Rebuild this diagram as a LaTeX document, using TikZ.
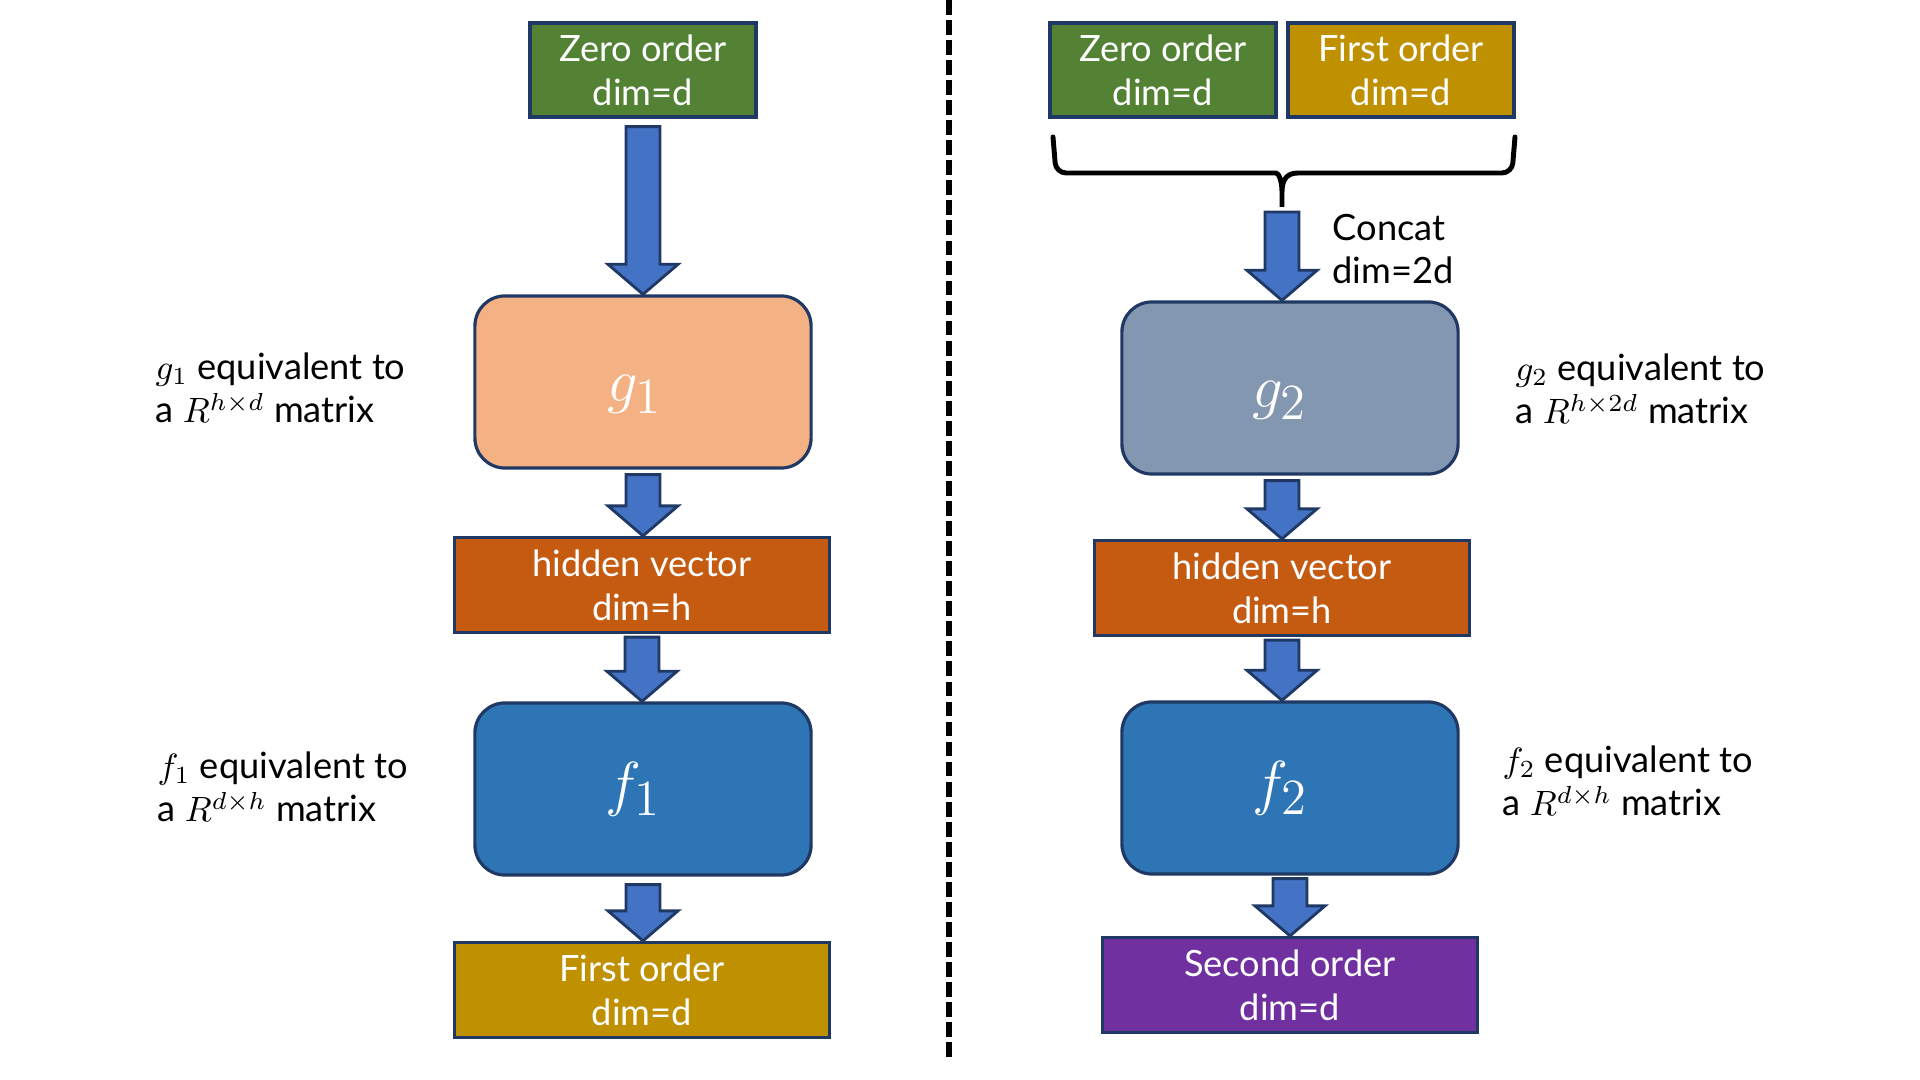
\documentclass[tikz,border=0pt]{standalone}
\usepackage{fontspec}
\setmainfont{Lato}
\usepackage{amsmath}
\usetikzlibrary{calc, positioning}
\definecolor{zeroc}{HTML}{548235}
\definecolor{firstc}{HTML}{BF9000}
\definecolor{secondc}{HTML}{7030A0}
\definecolor{hiddenc}{HTML}{C55A11}
\definecolor{gonec}{HTML}{F4B183}
\definecolor{gtwoc}{HTML}{8497B0}
\definecolor{fnetc}{HTML}{2E75B6}
\definecolor{arrowc}{HTML}{4472C4}
\definecolor{edgec}{HTML}{1F3864}

\tikzset{
  box/.style={draw=edgec, line width=0.9pt, text=white, align=center, inner sep=0pt,
    font=\fontsize{10.3}{12.4}\selectfont},
  vecbox/.style={box, minimum width=2.26cm, minimum height=0.94cm},
  widebox/.style={box, minimum width=3.75cm, minimum height=0.95cm},
  netbox/.style={box, rounded corners=0.3cm, minimum width=3.36cm, minimum height=1.72cm,
    font=\fontsize{19}{23}\selectfont},
  gtext/.style={text height=0.54cm, text depth=0.15cm},
  lbl/.style={align=left, anchor=west, inner sep=0pt, font=\fontsize{10.3}{12.4}\selectfont},
  arrowshape/.style={fill=arrowc, draw=edgec, line width=0.8pt},
  bracket/.style={line width=1.4pt, line cap=round},
  divider/.style={line width=1.7pt, dash pattern=on 4.2pt off 1.5pt}
}

% block arrow: shaft starts at #1, tip sits on the level of #2
\newcommand{\blockarrow}[2]{%
  \draw[arrowshape] let \p1 = (#1), \p2 = (#2) in
    (\x1-0.17cm,\y1) -- (\x1+0.17cm,\y1) -- (\x1+0.17cm,\y2+0.3cm)
    -- (\x1+0.35cm,\y2+0.3cm) -- (\x1,\y2) -- (\x1-0.35cm,\y2+0.3cm)
    -- (\x1-0.17cm,\y2+0.3cm) -- cycle;
}

\begin{document}
\begin{tikzpicture}[x=0.01cm, y=-0.01cm]
    \useasboundingbox (0,0) rectangle (1920,1080);

    % Divider
    \draw[divider] (949,0) -- (949,1062);

    % Left: first order from zero order
    \node[vecbox, fill=zeroc] (zeroL) at (643,70) {Zero order\\dim=d};
    \node[netbox, gtext, fill=gonec] (gL) at (643,382) {$g_1$\hspace{0.16cm}};
    \node[widebox, fill=hiddenc] (hidL) at (642,585) {hidden vector\\dim=h};
    \node[netbox, fill=fnetc] (fL) at (643,789) {$f_1$\hspace{0.2cm}};
    \node[widebox, fill=firstc] (firstL) at (642,990) {First order\\dim=d};

    \blockarrow{$(zeroL.south)+(0,8)$}{gL.north}
    \blockarrow{$(gL.south)+(0,5)$}{hidL.north}
    \blockarrow{$(hidL.south)+(0,3)$}{fL.north}
    \blockarrow{$(fL.south)+(0,8)$}{firstL.north}

    \node[lbl] (gLlbl) at (155,388) {$g_1$ equivalent to\\a $R^{h\times d}$ matrix};
    \node[lbl] (fLlbl) at (157,787) {$f_1$ equivalent to\\a $R^{d\times h}$ matrix};

    % Right: second order from zero and first order
    \node[vecbox, fill=zeroc] (zeroR) at (1163,70) {Zero order\\dim=d};
    \node[vecbox, fill=firstc] (firstR) at (1401,70) {First order\\dim=d};
    \node[netbox, gtext, fill=gtwoc] (gR) at (1290,388) {$g_2$\hspace{0.2cm}};
    \node[widebox, fill=hiddenc] (hidR) at (1282,588) {hidden vector\\dim=h};
    \node[netbox, fill=fnetc] (fR) at (1290,788) {$f_2$\hspace{0.2cm}};
    \node[widebox, fill=secondc] (secondR) at (1290,985) {Second order\\dim=d};

    % Concat brace
    \coordinate (brtip) at (1282,207);
    \draw[bracket] (1053,137) [rounded corners=0.1cm] -- (1056,173) -- (1266,173)
        [sharp corners] .. controls (1279,173) and (1282,182) .. (1282,192) -- (brtip)
        -- (1282,192) .. controls (1282,182) and (1285,173) .. (1298,173)
        [rounded corners=0.1cm] -- (1512,173) -- (1515,137);

    \blockarrow{$(brtip)+(0,5)$}{gR.north}
    \blockarrow{$(gR.south -| hidR.north)+(0,5)$}{hidR.north}
    \blockarrow{$(hidR.south)+(0,3)$}{fR.north}
    \blockarrow{$(fR.south)+(0,3)$}{secondR.north}

    \node[lbl] (concat) at (1332,249) {Concat\\dim=2d};
    \node[lbl] (gRlbl) at (1515,389) {$g_2$ equivalent to\\a $R^{h\times 2d}$ matrix};
    \node[lbl] (fRlbl) at (1502,781) {$f_2$ equivalent to\\a $R^{d\times h}$ matrix};

\end{tikzpicture}
\end{document}
